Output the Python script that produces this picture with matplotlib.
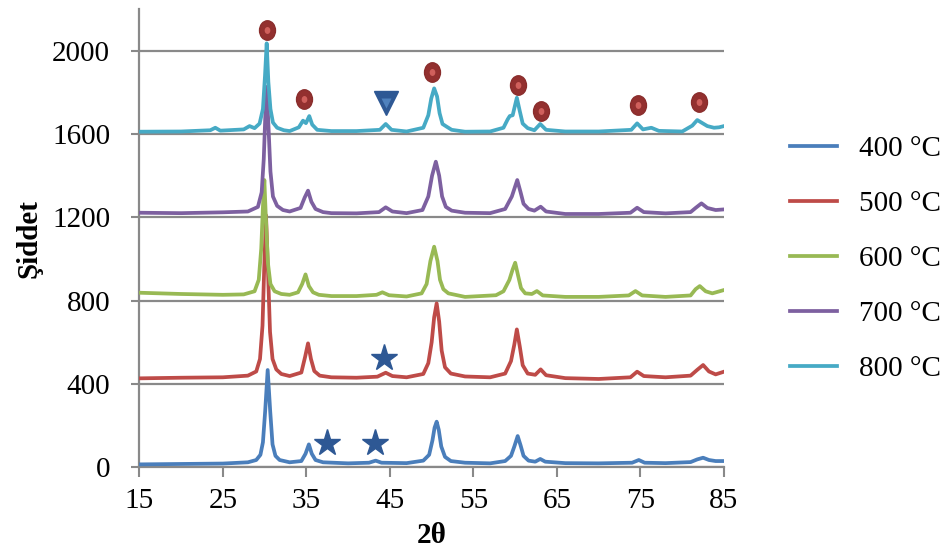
import matplotlib
matplotlib.use("Agg")
import matplotlib.pyplot as plt
from matplotlib.path import Path
from matplotlib.transforms import Affine2D

plt.rcParams['font.family'] = ['Liberation Serif', 'DejaVu Serif']

# 400 °C
tt_400 = [15, 20, 25, 28, 29.0, 29.5, 29.8, 30.07, 30.37, 30.67, 30.95, 31.3, 31.8, 33, 34.4, 34.9, 35.3, 35.65, 36.1, 37,
          40, 42.5, 43.3, 44, 47, 49.0, 49.7, 50.1, 50.35, 50.6, 50.85, 51.15, 51.6, 52.3, 54, 57, 58.8, 59.5, 59.9, 60.3,
          60.65, 61.0, 61.6, 62.4, 63.0, 63.6, 66, 70, 74.0, 74.8, 75.5, 78, 81, 81.8, 82.5, 83.2, 84, 85]
i_400 = [14, 16, 18, 24, 35, 60, 120, 270, 467, 270, 110, 55, 35, 24, 30, 65, 110, 65, 35, 24,
         19, 22, 32, 22, 20, 32, 60, 130, 190, 219, 180, 100, 50, 30, 22, 19, 30, 55, 100, 150,
         105, 55, 32, 27, 40, 27, 20, 19, 22, 35, 22, 20, 25, 38, 46, 35, 30, 30]

# 500 °C
tt_500 = [15, 20, 25, 28, 29.0, 29.45, 29.75, 29.95, 30.17, 30.4, 30.65, 30.95, 31.4, 32, 33, 34.4, 34.85, 35.2, 35.55, 35.95,
          36.6, 38, 41, 43.5, 44.5, 45.3, 47, 49.0, 49.6, 50.0, 50.3, 50.6, 50.9, 51.2, 51.6, 52.3, 54, 57, 58.8, 59.5,
          59.9, 60.2, 60.55, 60.9, 61.5, 62.4, 63.05, 63.7, 66, 70, 73.8, 74.6, 75.4, 78, 81, 81.8, 82.5, 83.2, 84, 85]
i_500 = [427, 430, 432, 440, 460, 520, 680, 950, 1210, 950, 650, 520, 470, 448, 438, 455, 530, 595, 520, 462,
         440, 432, 430, 435, 454, 438, 432, 448, 500, 600, 720, 787, 700, 560, 480, 450, 436, 432, 450, 510,
         590, 662, 580, 490, 450, 444, 470, 442, 428, 424, 432, 459, 438, 432, 440, 468, 491, 460, 446, 459]

# 600 °C
tt_600 = [15, 20, 25, 27.5, 28.8, 29.3, 29.6, 29.8, 29.97, 30.15, 30.4, 30.7, 31.2, 32, 33, 34.0, 34.5, 34.9, 35.3, 35.8,
          36.5, 38, 41, 43.4, 44.1, 44.9, 47, 48.8, 49.4, 49.85, 50.3, 50.7, 51.0, 51.4, 52, 54, 57.7, 58.6, 59.3, 59.7,
          60.0, 60.35, 60.7, 61.2, 62.0, 62.6, 63.3, 66, 70, 73.6, 74.4, 75.2, 78, 81, 81.6, 82.1, 82.8, 83.6, 85]
i_600 = [838, 832, 828, 830, 845, 900, 1050, 1250, 1379, 1200, 980, 880, 845, 832, 828, 840, 880, 926, 870, 840,
         828, 822, 822, 828, 840, 826, 820, 835, 880, 990, 1059, 990, 900, 855, 835, 818, 826, 845, 899, 950,
         982, 920, 860, 835, 832, 846, 825, 818, 818, 825, 846, 825, 818, 825, 855, 870, 845, 835, 851]

# 700 °C
tt_700 = [15, 20, 25, 28, 29.2, 29.65, 29.9, 30.08, 30.25, 30.45, 30.7, 31.0, 31.5, 32.2, 33, 34.3, 34.8, 35.2, 35.6, 36.1,
          37, 38, 41, 43.7, 44.5, 45.3, 47, 48.9, 49.6, 50.05, 50.5, 50.9, 51.25, 51.7, 52.4, 54, 57, 58.8, 59.6, 60.25,
          60.65, 61.0, 61.6, 62.3, 63.05, 63.7, 66, 70, 73.8, 74.6, 75.4, 78, 81, 81.6, 82.3, 83.0, 84, 85]
i_700 = [1222, 1220, 1224, 1228, 1250, 1320, 1480, 1680, 1826, 1650, 1420, 1300, 1255, 1235, 1228, 1245, 1295, 1328, 1275, 1240,
         1225, 1220, 1219, 1225, 1248, 1228, 1220, 1235, 1300, 1400, 1467, 1400, 1300, 1250, 1232, 1222, 1220, 1240, 1300, 1379,
         1320, 1265, 1240, 1232, 1251, 1228, 1216, 1216, 1222, 1246, 1225, 1219, 1225, 1245, 1267, 1245, 1235, 1238]

# 800 °C
tt_800 = [15, 20, 23.5, 24.1, 24.7, 27.5, 28.2, 28.8, 29.4, 29.8, 30.05, 30.25, 30.45, 30.7, 31.0, 31.5, 32.3, 33, 34.1, 34.6,
          34.95, 35.35, 35.7, 36.3, 38, 41, 43.8, 44.5, 45.2, 47, 49.0, 49.6, 49.95, 50.3, 50.65, 50.95, 51.3, 51.8, 52.4, 54,
          57, 58.6, 59.1, 59.35, 59.7, 60.2, 60.55, 60.9, 61.5, 62.3, 63.0, 63.7, 66, 70, 73.9, 74.6, 75.3, 76.3, 77.2, 80,
          81.2, 81.8, 82.5, 83.0, 83.8, 84.4, 85]
i_800 = [1611, 1612, 1618, 1630, 1616, 1622, 1638, 1628, 1650, 1720, 1880, 2035, 1850, 1720, 1655, 1630, 1618, 1614, 1632, 1664,
         1652, 1686, 1645, 1620, 1614, 1614, 1620, 1648, 1620, 1612, 1630, 1690, 1770, 1819, 1780, 1700, 1648, 1635, 1620, 1611,
         1612, 1630, 1670, 1686, 1690, 1774, 1710, 1650, 1628, 1618, 1648, 1620, 1612, 1612, 1620, 1651, 1622, 1630, 1615, 1612,
         1640, 1667, 1650, 1638, 1630, 1632, 1638]

labels = ["400 °C", "500 °C", "600 °C", "700 °C", "800 °C"]
colors = ["#4A7EBB", "#BE4B48", "#98B954", "#7D60A0", "#46AAC5"]

# phase markers
circle_x = [30.33, 34.75, 50.1, 60.34, 63.05, 74.7, 82.04]
circle_y = [2099, 1767, 1896, 1837, 1709, 1739, 1754]
tri_x = [44.5]
tri_y = [1747]
star_x = [44.33, 37.43, 43.2]
star_y = [526, 115, 115]

fig = plt.figure(figsize=(9.53, 5.52), dpi=100)
ax = fig.add_axes([139.3/953, 1-467.3/552, (724-139.3)/953, (467.3-9)/552])

series = [(tt_400, i_400), (tt_500, i_500), (tt_600, i_600), (tt_700, i_700), (tt_800, i_800)]
for (xs, ys), c, lab in zip(series, colors, labels):
    ax.plot(xs, ys, color=c, lw=2.7, label=lab, solid_joinstyle='round', zorder=3)

# ellipse marker for the red circles
ell = Path.unit_circle().transformed(Affine2D().scale(0.82, 1.0))
ax.plot(circle_x, circle_y, ls='none', marker=ell, ms=14, mfc='#93302F', mec='#8A2D2C', zorder=5)
ax.plot(circle_x, circle_y, ls='none', marker=ell, ms=5, mfc='#D0605C', mec='none', zorder=6)
ax.plot(tri_x, tri_y, ls='none', marker='v', ms=17, mfc='#2E5894', mec='#2E5894', zorder=5)
ax.plot(tri_x, tri_y, ls='none', marker='v', ms=7, mfc='#4F81BD', mec='none', zorder=6)
ax.plot(star_x, star_y, ls='none', marker='*', ms=20, mfc='#2E5894', mec='#2E5894', zorder=5)

ax.set_xlim(15, 85)
ax.set_ylim(0, 2200)
ax.set_xticks(range(15, 86, 10))
ax.set_yticks(range(0, 2001, 400))
ax.yaxis.grid(True, color='#898989', lw=1.6)
ax.set_axisbelow(True)
for s in ['top', 'right']:
    ax.spines[s].set_visible(False)
for s in ['left', 'bottom']:
    ax.spines[s].set_color('#898989')
    ax.spines[s].set_linewidth(1.6)
ax.tick_params(axis='x', direction='out', length=7, width=1.5, color='#898989', labelsize=21, pad=8)
ax.tick_params(axis='y', direction='out', length=6, width=1.5, color='#898989', labelsize=21, pad=15)

ax.set_xlabel("2θ", fontsize=21, fontweight='bold')
ax.xaxis.set_label_coords(0.5, -0.12)
ax.set_ylabel("Şiddet", fontsize=21, fontweight='bold')
ax.yaxis.set_label_coords(-0.165, 0.5)

fig.legend(loc='upper left', bbox_to_anchor=(790/953, 1-136/552), frameon=False, fontsize=21,
           handlelength=1.6, handletextpad=0.75, labelspacing=0.98, borderpad=0, borderaxespad=0)

plt.savefig("out.png", dpi=100)
